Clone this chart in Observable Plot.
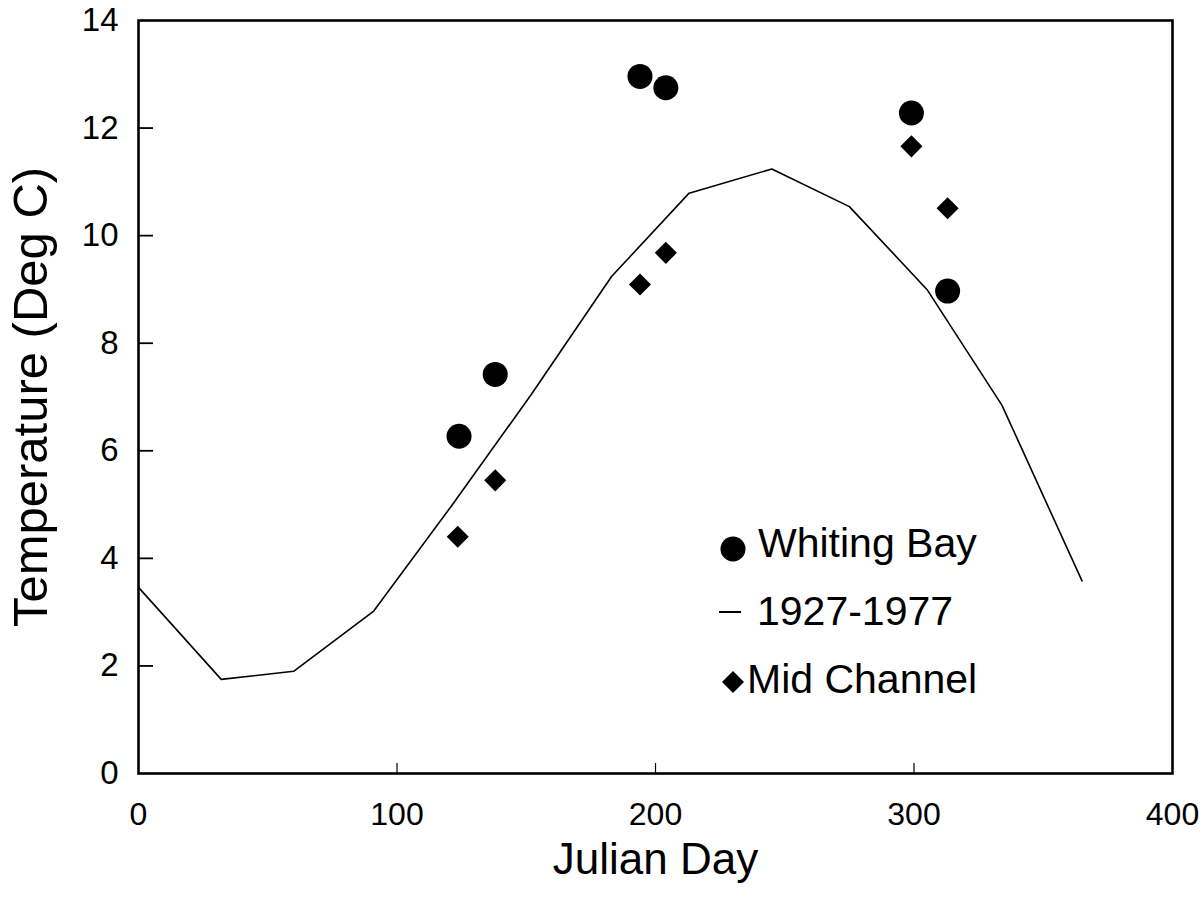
<!DOCTYPE html>
<html>
<head>
<meta charset="utf-8">
<script src="https://cdn.jsdelivr.net/npm/d3@7"></script>
<script src="https://cdn.jsdelivr.net/npm/@observablehq/plot@0.6"></script>
<style>
  html, body { margin: 0; padding: 0; background: #fff; }
  #wrap { position: relative; width: 1202px; height: 898px; font-family: "Liberation Sans", Arial, Helvetica, sans-serif; }
  #legend { position: absolute; left: 0; top: 0; }
</style>
</head>
<body>
<div id="wrap"></div>
<script>
// Climatology 1927-1977 (line)
const climDay  = [0, 32, 60, 91, 121, 152, 183, 213, 245, 275, 305, 334, 365];
const climTemp = [3.46, 1.75, 1.9, 3.02, 4.97, 7.05, 9.24, 10.79, 11.24, 10.54, 9.0, 6.85, 3.58];

// Whiting Bay (circles)
const wbDay  = [124, 138, 194, 204, 299, 313];
const wbTemp = [6.27, 7.42, 12.96, 12.75, 12.28, 8.97];

// Mid Channel (diamonds)
const mcDay  = [123.5, 138, 194, 204, 299, 313];
const mcTemp = [4.40, 5.45, 9.09, 9.68, 11.66, 10.51];

const xTicks = [0, 100, 200, 300, 400];
const xInnerTicks = [100, 200, 300];
const yTicks = [0, 2, 4, 6, 8, 10, 12, 14];
const yInnerTicks = [2, 4, 6, 8, 10, 12];

const legendItems = ["Whiting Bay", "1927-1977", "Mid Channel"];

const clim = climDay.map((d, i) => ({day: d, temp: climTemp[i]}));
const wb = wbDay.map((d, i) => ({day: d, temp: wbTemp[i]}));
const mc = mcDay.map((d, i) => ({day: d, temp: mcTemp[i]}));

const font = '"Liberation Sans", Arial, Helvetica, sans-serif';

const chart = Plot.plot({
  width: 1202,
  height: 898,
  marginLeft: 138,
  marginRight: 30,
  marginTop: 20,
  marginBottom: 125,
  style: {fontFamily: font, color: "#000", background: "#fff", overflow: "visible"},
  x: {domain: [0, 400]},
  y: {domain: [0, 14]},
  marks: [
    // tick labels
    Plot.axisX({ticks: xTicks, tickSize: 0, tickPadding: 29, fontSize: 32, label: null}),
    Plot.axisY({ticks: yTicks, tickSize: 0, tickPadding: 20, fontSize: 33, label: null}),
    // inward ticks
    Plot.axisX({ticks: xInnerTicks, tickSize: -10, tickFormat: () => "", label: null, strokeWidth: 1.2}),
    Plot.axisY({ticks: yInnerTicks, tickSize: -15, tickFormat: () => "", label: null, strokeWidth: 1.8}),
    // axis titles
    Plot.axisX({ticks: [], label: "Julian Day", labelAnchor: "center", labelArrow: "none", labelOffset: 100, fontSize: 44}),
    Plot.axisY({ticks: [], label: "Temperature (Deg C)", labelAnchor: "center", labelArrow: "none", labelOffset: 126, fontSize: 49}),
    Plot.frame({stroke: "#000", strokeWidth: 2.6}),
    Plot.line(clim, {x: "day", y: "temp", stroke: "#000", strokeWidth: 1.6}),
    Plot.dot(wb, {x: "day", y: "temp", r: 12.5, fill: "#000", symbol: "circle"}),
    Plot.dot(mc, {x: "day", y: "temp", r: 8.8, fill: "#000", symbol: "square", rotate: 45})
  ]
});

const wrap = document.getElementById("wrap");
wrap.appendChild(chart);

// Legend (inside plot area, lower right)
const ns = "http://www.w3.org/2000/svg";
const leg = document.createElementNS(ns, "svg");
leg.setAttribute("id", "legend");
leg.setAttribute("width", 1202);
leg.setAttribute("height", 898);
leg.style.pointerEvents = "none";
const rows = [
  {sym: "circle", label: legendItems[0], cy: 549, tx: 758, ty: 557},
  {sym: "dash",   label: legendItems[1], cy: 612, tx: 757, ty: 625},
  {sym: "diamond",label: legendItems[2], cy: 682, tx: 747, ty: 693}
];
for (const r of rows) {
  let s;
  if (r.sym === "circle") {
    s = document.createElementNS(ns, "circle");
    s.setAttribute("cx", 733); s.setAttribute("cy", r.cy); s.setAttribute("r", 12.5);
    s.setAttribute("fill", "#000");
  } else if (r.sym === "dash") {
    s = document.createElementNS(ns, "line");
    s.setAttribute("x1", 719); s.setAttribute("x2", 741);
    s.setAttribute("y1", r.cy); s.setAttribute("y2", r.cy);
    s.setAttribute("stroke", "#000"); s.setAttribute("stroke-width", 2);
  } else {
    s = document.createElementNS(ns, "path");
    s.setAttribute("d", `M733,${r.cy - 11}L744,${r.cy}L733,${r.cy + 11}L722,${r.cy}Z`);
    s.setAttribute("fill", "#000");
  }
  leg.appendChild(s);
  const t = document.createElementNS(ns, "text");
  t.setAttribute("x", r.tx); t.setAttribute("y", r.ty);
  t.setAttribute("font-family", font);
  t.setAttribute("font-size", 41);
  t.setAttribute("fill", "#000");
  t.textContent = r.label;
  leg.appendChild(t);
}
wrap.appendChild(leg);
</script>
</body>
</html>
